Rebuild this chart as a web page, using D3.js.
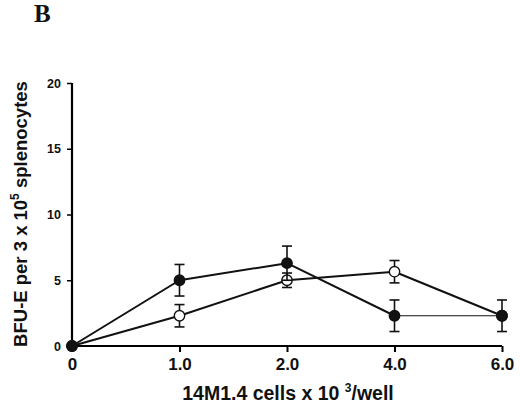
<!DOCTYPE html>
<html>
<head>
<meta charset="utf-8">
<script src="https://cdn.jsdelivr.net/npm/d3@7"></script>
<style>
  body { margin: 0; background: #fff; }
  text { font-family: "Liberation Sans", Arial, sans-serif; font-weight: bold; fill: #111; }
</style>
</head>
<body>
<div id="chart"></div>
<script>
// Data
var doses = ["0", "1.0", "2.0", "4.0", "6.0"];
var closedMean = [0, 5.0, 6.3, 2.3, 2.3];
var closedErr = [0, 1.2, 1.3, 1.2, 1.2];
var openMean = [0, 2.3, 5.0, 5.65, 2.3];
var openErr = [0, 0.85, 0.55, 0.85, 0];
var yTicks = [0, 5, 10, 15, 20];

var svgWidth = 520;
var svgHeight = 405;

var svg = d3.select("#chart")
    .append("svg")
    .attr("width", svgWidth)
    .attr("height", svgHeight);

// scales
var xScale = d3.scalePoint()
    .domain(doses)
    .range([72, 502]);

var yScale = d3.scaleLinear()
    .domain([0, 20])
    .range([346, 83]);

// panel letter
svg.append("text")
    .attr("x", 34)
    .attr("y", 22)
    .style("font-family", "'Liberation Serif', 'Times New Roman', serif")
    .style("font-size", "25px")
    .text("B");

// axes
var bottomAxis = d3.axisBottom(xScale).tickSize(6).tickPadding(6);
var leftAxis = d3.axisLeft(yScale).tickValues(yTicks).tickSize(5).tickPadding(6);

var xg = svg.append("g")
    .attr("transform", "translate(0,346)")
    .call(bottomAxis);
xg.select(".domain").attr("d", "M72,0H502").attr("stroke-width", 2.2);
xg.selectAll(".tick line").attr("stroke-width", 2);
xg.selectAll(".tick text")
    .style("font-size", "17px")
    .attr("fill", "#111");

var yg = svg.append("g")
    .attr("transform", "translate(72,0)")
    .call(leftAxis);
yg.select(".domain").attr("d", "M0,83V346").attr("stroke-width", 2.2);
yg.selectAll(".tick line").attr("stroke-width", 1.5);
yg.selectAll(".tick text")
    .style("font-size", "12.5px")
    .attr("fill", "#111");

// axis labels
var xl = svg.append("text")
    .attr("x", 288)
    .attr("y", 400)
    .attr("text-anchor", "middle")
    .style("font-size", "19.5px");
xl.append("tspan").text("14M1.4 cells x 10 ");
xl.append("tspan").attr("dy", -8).style("font-size", "12px").text("3");
xl.append("tspan").attr("dy", 8).text("/well");

var yl = svg.append("text")
    .attr("transform", "translate(27,214) rotate(-90)")
    .attr("text-anchor", "middle")
    .style("font-size", "18.5px");
yl.append("tspan").text("BFU-E per 3 x 10");
yl.append("tspan").attr("dy", -8).style("font-size", "12px").text("5");
yl.append("tspan").attr("dy", 8).text(" splenocytes");

// series helpers
function drawSeries(means, errs, fill, lastThin) {
    var pts = doses.map(function(d, i) { return { x: d, y: means[i], e: errs[i] }; });
    var g = svg.append("g");

    d3.pairs(pts).forEach(function(p, i) {
        g.append("line")
            .attr("x1", xScale(p[0].x)).attr("y1", yScale(p[0].y))
            .attr("x2", xScale(p[1].x)).attr("y2", yScale(p[1].y))
            .attr("stroke", "#111")
            .attr("stroke-width", (lastThin && i === pts.length - 2) ? 1.2 : 2);
    });

    var eb = g.selectAll(".err")
        .data(pts.filter(function(d) { return d.e > 0; }))
        .enter()
        .append("g");
    eb.append("line")
        .attr("x1", d => xScale(d.x)).attr("x2", d => xScale(d.x))
        .attr("y1", d => yScale(d.y + d.e)).attr("y2", d => yScale(d.y - d.e))
        .attr("stroke", "#111").attr("stroke-width", 1.6);
    [1, -1].forEach(function(s) {
        eb.append("line")
            .attr("x1", d => xScale(d.x) - 5).attr("x2", d => xScale(d.x) + 5)
            .attr("y1", d => yScale(d.y + s * d.e)).attr("y2", d => yScale(d.y + s * d.e))
            .attr("stroke", "#111").attr("stroke-width", 1.6);
    });

    g.selectAll("circle")
        .data(pts)
        .enter()
        .append("circle")
        .attr("cx", d => xScale(d.x))
        .attr("cy", d => yScale(d.y))
        .attr("r", 5.2)
        .attr("fill", fill)
        .attr("stroke", "#111")
        .attr("stroke-width", 1.4);
}

drawSeries(openMean, openErr, "#fff", false);
drawSeries(closedMean, closedErr, "#111", true);
</script>
</body>
</html>
